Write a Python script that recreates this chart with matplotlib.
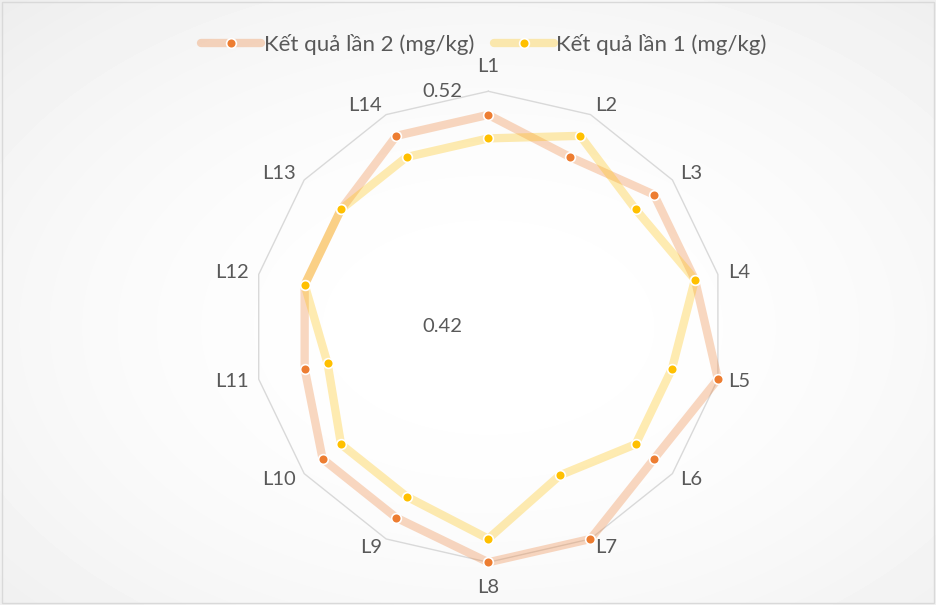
import numpy as np
import matplotlib.pyplot as plt
from matplotlib.lines import Line2D
from matplotlib.patches import Rectangle

# Radar data: residue results (mg/kg) at 14 sampling points
labels = ["L1", "L2", "L3", "L4", "L5", "L6", "L7",
          "L8", "L9", "L10", "L11", "L12", "L13", "L14"]
lan2 = [0.51, 0.50, 0.51, 0.51, 0.52, 0.51, 0.52,
        0.52, 0.51, 0.51, 0.50, 0.50, 0.50, 0.51]
lan1 = [0.50, 0.51, 0.50, 0.51, 0.50, 0.50, 0.49,
        0.51, 0.50, 0.50, 0.49, 0.50, 0.50, 0.50]
series_names = ["Kết quả lần 2 (mg/kg)", "Kết quả lần 1 (mg/kg)"]
r_min, r_max = 0.42, 0.52

plt.rcParams["font.family"] = ["Lato", "DejaVu Sans"]
txt_color = "#595959"
orange = "#ED7D31"
yellow = "#FFC000"
lab_size = 14.5

fig = plt.figure(figsize=(9.36, 6.05), dpi=100)

# soft radial background like the Excel chart area
bg = fig.add_axes([0, 0, 1, 1], zorder=-10)
yy, xx = np.mgrid[0:605, 0:936]
d = np.hypot((xx - 488) / 936, (yy - 327) / 605)
bg.imshow(1 - 0.07 * np.clip(d / 0.75, 0, 1) ** 2, cmap="gray",
          vmin=0, vmax=1, aspect="auto", interpolation="bilinear")
bg.axis("off")
fig.patches.append(Rectangle((0.002, 0.004), 0.996, 0.992, transform=fig.transFigure,
                             fill=False, edgecolor="#D9D9D9", lw=1.0))

ax = fig.add_axes([0.2701, 0.0706, 0.5032, 0.7785], projection="polar")
ax.set_theta_offset(np.pi / 2)
ax.set_theta_direction(-1)
ax.set_ylim(r_min, r_max)
ax.set_axis_off()

n = len(labels)
theta = np.arange(n) * 2 * np.pi / n
tc = np.append(theta, theta[0])

# outer gridline polygon
ax.plot(tc, [r_max] * (n + 1), color="#D9D9D9", lw=1.0, clip_on=False)

for vals, col in [(lan2, orange), (lan1, yellow)]:
    vc = np.append(vals, vals[0])
    ax.plot(tc, vc, color=col, alpha=0.3, lw=6, solid_joinstyle="round",
            solid_capstyle="round", clip_on=False)
    ax.plot(theta, vals, "o", color=col, ms=7, mec="white", mew=1.2, clip_on=False)

# category labels, placed outside the outer ring like Excel does
for t, lab in zip(theta, labels):
    s, c = np.sin(t), np.cos(t)
    if abs(s) < 0.01:
        ha, gap = "center", 25
    else:
        ha, gap = ("left" if s > 0 else "right"), 10
    ax.annotate(lab, xy=(t, r_max), xytext=(gap * s, gap * c),
                textcoords="offset pixels", ha=ha, va="center",
                fontsize=lab_size, color=txt_color)

# value axis labels
for v in [r_max, r_min]:
    ax.annotate(f"{v:.2f}", xy=(0, v), xytext=(-46, 0), textcoords="offset pixels",
                ha="center", va="center", fontsize=lab_size, color=txt_color)

handles = []
for col in [orange, yellow]:
    ln = Line2D([], [], color=col, alpha=0.3, lw=6, solid_capstyle="round")
    mk = Line2D([], [], color=col, marker="o", ls="none", ms=7, mec="white", mew=1.2)
    handles.append((ln, mk))
fig.legend(handles, series_names, loc="center", bbox_to_anchor=(0.517, 0.926),
           ncol=2, frameon=False, fontsize=16, labelcolor=txt_color,
           handlelength=2.7, handletextpad=0.1, columnspacing=0.9, numpoints=1)

fig.savefig("out.png", dpi=100)
